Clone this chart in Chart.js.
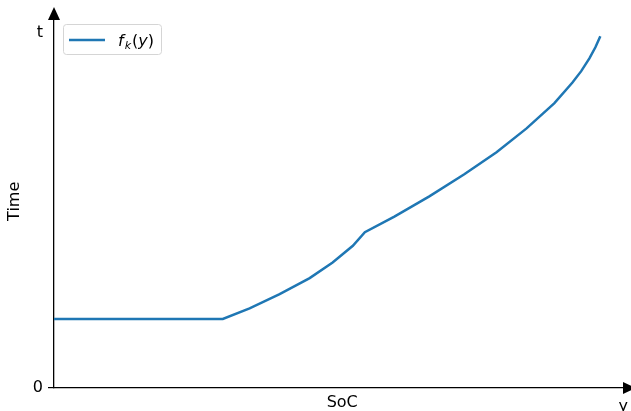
<!DOCTYPE html>
<html>
<head>
<meta charset="utf-8">
<script src="https://cdn.jsdelivr.net/npm/chart.js@4/dist/chart.umd.min.js"></script>
<style>
  html, body { margin: 0; padding: 0; background: #fff; }
  #wrap { width: 631px; height: 411px; position: relative; }
</style>
</head>
<body>
<div id="wrap"><canvas id="chargeChart"></canvas></div>
<script>
// f_k(y): charging time as a function of state of charge
const socValues  = [0, 30.9, 35.8, 41.3, 46.8, 51.0, 54.7, 56.9, 62.3, 68.7, 75.1, 81.0, 86.5, 91.6, 94.9, 96.5, 98.0, 99.1, 100];
const timeValues = [0.194, 0.194, 0.224, 0.264, 0.309, 0.353, 0.400, 0.438, 0.482, 0.539, 0.601, 0.663, 0.730, 0.801, 0.859, 0.891, 0.927, 0.958, 0.989];

const xTickValues = [104.2];
const xTickLabels = ['y'];
const yTickValues = [0, 1];
const yTickLabels = ['0', 't'];

const lineColor = '#1f77b4';
const fontFamily = '"DejaVu Sans", sans-serif';

const points = socValues.map((x, i) => ({ x: x, y: timeValues[i] }));

// axis arrow heads
const arrowPlugin = {
    id: 'axisArrows',
    afterDraw(chart) {
        const ctx = chart.ctx;
        const area = chart.chartArea;
        ctx.save();
        ctx.fillStyle = '#000';
        // y axis
        ctx.beginPath();
        ctx.moveTo(area.left - 6, 20);
        ctx.lineTo(area.left + 6, 20);
        ctx.lineTo(area.left, 7);
        ctx.closePath();
        ctx.fill();
        // x axis
        ctx.beginPath();
        ctx.moveTo(623, area.bottom - 6);
        ctx.lineTo(623, area.bottom + 6);
        ctx.lineTo(636, area.bottom);
        ctx.closePath();
        ctx.fill();
        ctx.restore();
    }
};

// legend with math-style label f_k(y)
const mathLegend = {
    id: 'mathLegend',
    afterDraw(chart) {
        const ctx = chart.ctx;
        const ds = chart.data.datasets[0];
        ctx.save();
        ctx.beginPath();
        ctx.roundRect(63.5, 24.5, 98, 30, 3);
        ctx.fillStyle = 'rgba(255,255,255,0.8)';
        ctx.fill();
        ctx.strokeStyle = '#d5d5d5';
        ctx.lineWidth = 1;
        ctx.stroke();

        ctx.strokeStyle = ds.borderColor;
        ctx.lineWidth = ds.borderWidth;
        ctx.beginPath();
        ctx.moveTo(69, 40);
        ctx.lineTo(105, 40);
        ctx.stroke();

        ctx.fillStyle = '#000';
        ctx.textBaseline = 'alphabetic';
        let x = 118;
        const base = 46;
        ctx.font = 'italic 16px ' + fontFamily;
        ctx.fillText('f', x, base);
        x += ctx.measureText('f').width + 1;
        ctx.font = 'italic 11px ' + fontFamily;
        ctx.fillText('k', x, base + 3);
        x += ctx.measureText('k').width + 1;
        ctx.font = '16px ' + fontFamily;
        ctx.fillText('(', x, base);
        x += ctx.measureText('(').width;
        ctx.font = 'italic 16px ' + fontFamily;
        ctx.fillText('y', x, base);
        x += ctx.measureText('y').width;
        ctx.font = '16px ' + fontFamily;
        ctx.fillText(')', x, base);
        ctx.restore();
    }
};

new Chart(document.getElementById('chargeChart'), {
    type: 'line',
    data: {
        datasets: [{
            label: 'f_k(y)',
            data: points,
            borderColor: lineColor,
            borderWidth: 2.5,
            pointRadius: 0,
            fill: false,
            tension: 0
        }]
    },
    options: {
        responsive: true,
        maintainAspectRatio: false,
        animation: false,
        layout: { padding: { top: 10, left: 0, right: 0, bottom: 0 } },
        plugins: {
            legend: { display: false },
            tooltip: { enabled: false }
        },
        scales: {
            x: {
                type: 'linear',
                min: 0,
                max: 105.5,
                afterFit: (axis) => { axis.height = 23; },
                afterBuildTicks: (axis) => {
                    axis.ticks = xTickValues.map(v => ({ value: v }));
                },
                grid: {
                    display: true,
                    drawOnChartArea: false,
                    drawTicks: true,
                    tickLength: 6,
                    color: 'transparent'
                },
                border: { display: true, color: '#000', width: 1.3 },
                ticks: {
                    color: '#000',
                    padding: 3,
                    maxRotation: 0,
                    font: { family: fontFamily, size: 16 },
                    callback: (value, index) => xTickLabels[index]
                },
                title: {
                    display: true,
                    text: 'SoC',
                    color: '#000',
                    padding: 0,
                    font: { family: fontFamily, size: 16, lineHeight: 1 }
                }
            },
            y: {
                type: 'linear',
                min: 0,
                max: 1.05,
                afterFit: (axis) => { axis.width = 54; },
                afterBuildTicks: (axis) => {
                    axis.ticks = yTickValues.map(v => ({ value: v }));
                },
                grid: {
                    display: true,
                    drawOnChartArea: false,
                    drawTicks: true,
                    tickLength: 6,
                    lineWidth: 1.2,
                    color: (c) => (c.tick && c.tick.value === 0 ? '#000' : 'transparent')
                },
                border: { display: true, color: '#000', width: 1.3 },
                ticks: {
                    color: '#000',
                    padding: 5,
                    font: { family: fontFamily, size: 16 },
                    callback: (value, index) => yTickLabels[index]
                },
                title: {
                    display: true,
                    text: 'Time',
                    color: '#000',
                    padding: { top: 7, bottom: 0 },
                    font: { family: fontFamily, size: 16, lineHeight: 1 }
                }
            }
        }
    },
    plugins: [arrowPlugin, mathLegend]
});
</script>
</body>
</html>
